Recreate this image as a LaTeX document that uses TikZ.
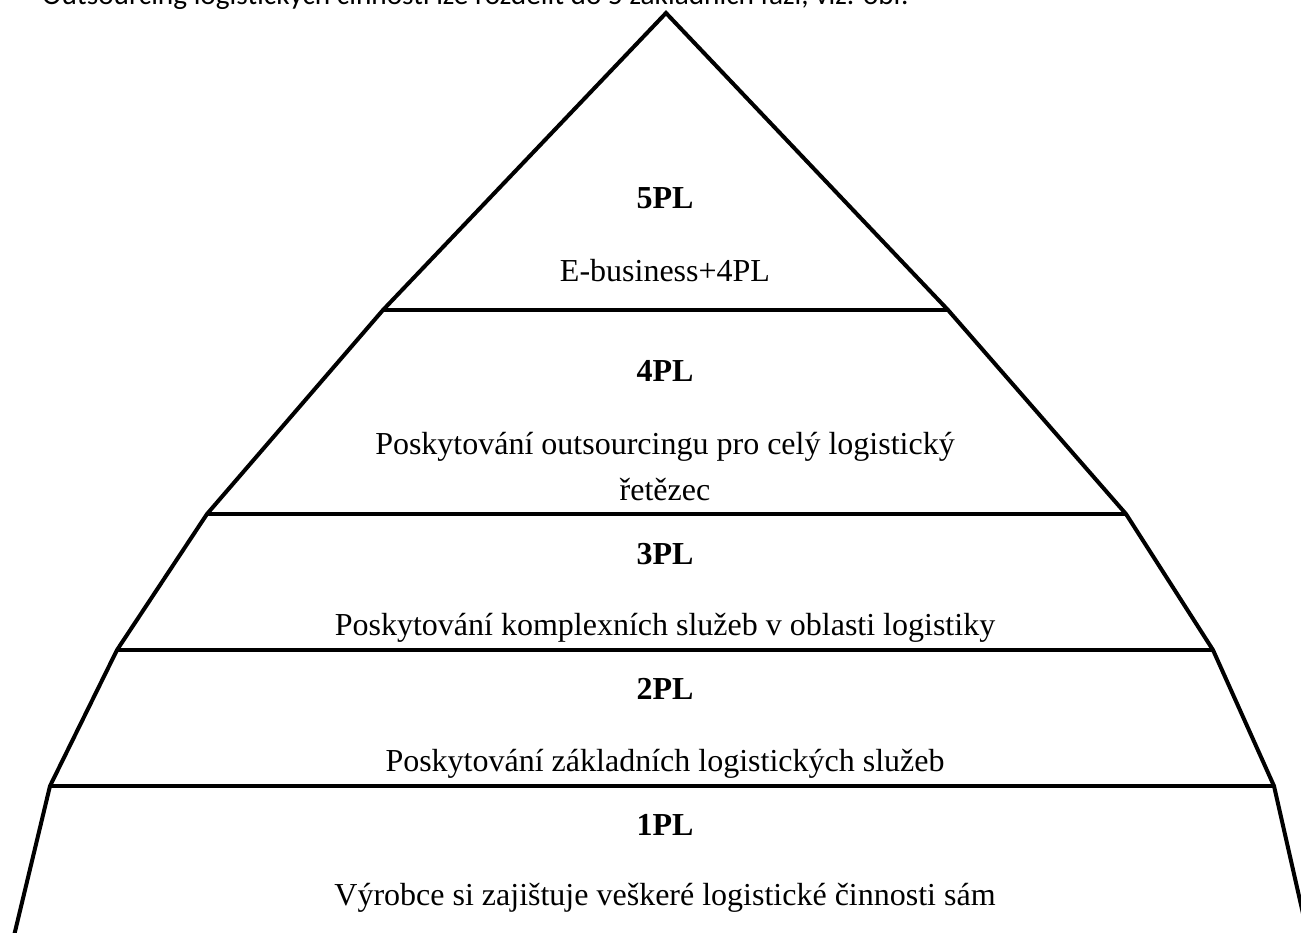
\documentclass[tikz,border=0pt]{standalone}
\usepackage{fontspec}
\setmainfont{Liberation Serif}
\newfontfamily\capfont{Carlito}
\begin{document}
\begin{tikzpicture}[x=1pt,y=-1pt,
  outline/.style={line width=4pt,line join=miter},
  lvl/.style={font=\fontsize{32}{38}\selectfont\bfseries,anchor=base,inner sep=0pt},
  desc/.style={font=\fontsize{32}{38}\selectfont,anchor=base,inner sep=0pt}]
\useasboundingbox (0,0) rectangle (1301,932);
\clip (0,0) rectangle (1301,932);
% caption (cut off at top)
\node[font=\fontsize{29.3}{34}\selectfont\capfont,anchor=base west,inner sep=0pt] (cap) at (42,4)
  {Outsourcing logistických činností lze rozdělit do 5 základních fází, viz. obr.};
% corner coordinates
\coordinate (top) at (666,13);
\coordinate (l5) at (383,310); \coordinate (r5) at (948,310);
\coordinate (l4) at (207,514); \coordinate (r4) at (1126,514);
\coordinate (l3) at (117,650); \coordinate (r3) at (1213,650);
\coordinate (l2) at (50,786);  \coordinate (r2) at (1274,786);
\coordinate (l1) at (13,940);  \coordinate (r1) at (1309,940);
% outline
\draw[outline] (l1) -- (l2) -- (l3) -- (l4) -- (l5) -- (top) -- (r5) -- (r4) -- (r3) -- (r2) -- (r1);
\draw[outline] (l5) -- (r5);
\draw[outline] (l4) -- (r4);
\draw[outline] (l3) -- (r3);
\draw[outline] (l2) -- (r2);
% texts
\node[lvl] (p5) at (665,208) {5PL};
\node[desc] (d5) at (665,281) {E-business+4PL};
\node[lvl] (p4) at (665,381) {4PL};
\node[desc] (d4a) at (665,454) {Poskytování outsourcingu pro celý logistický};
\node[desc] (d4b) at (665,500) {řetězec};
\node[lvl] (p3) at (665,564) {3PL};
\begin{scope}
\clip (0,520) rectangle (1301,641);
\node[desc] (d3) at (665,635) {Poskytování komplexních služeb v oblasti logistiky};
\end{scope}
\node[lvl] (p2) at (665,699) {2PL};
\node[desc] (d2) at (665,771) {Poskytování základních logistických služeb};
\node[lvl] (p1) at (665,835) {1PL};
\node[desc] (d1) at (665,905) {Výrobce si zajištuje veškeré logistické činnosti sám};
\end{tikzpicture}
\end{document}
